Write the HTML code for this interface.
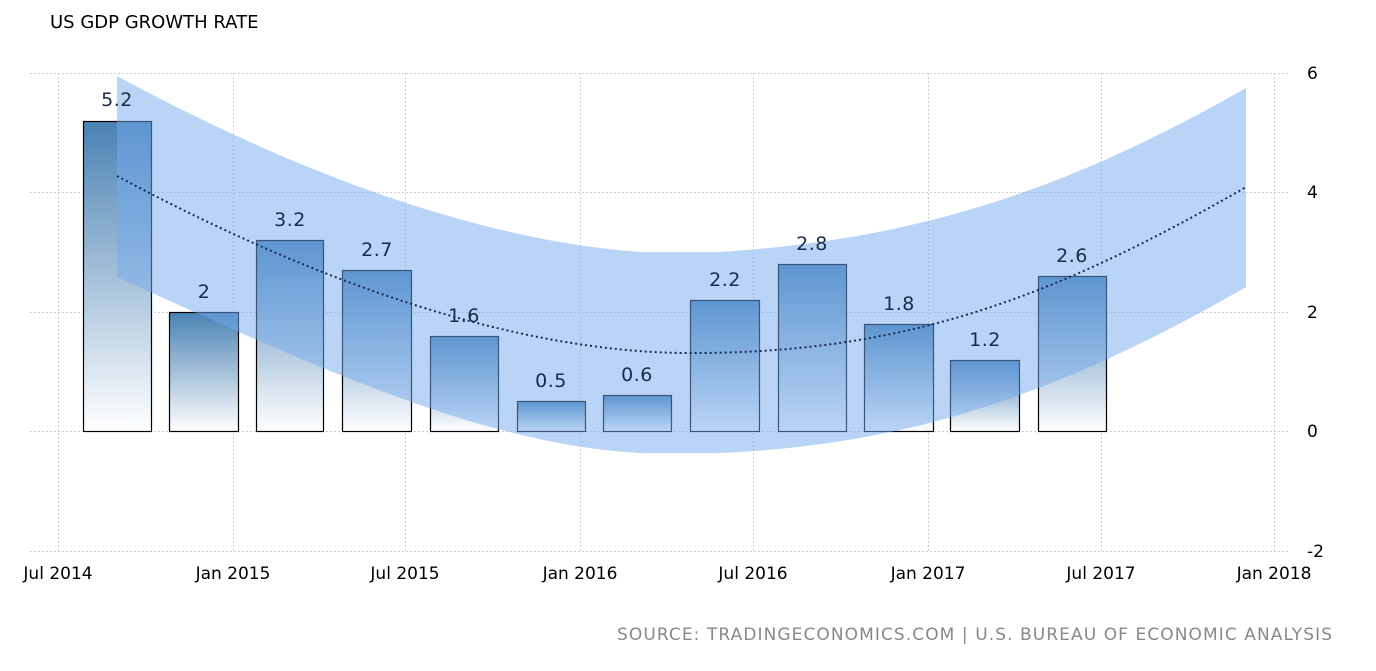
<!DOCTYPE html>
<html><head><meta charset="utf-8"><style>
body{margin:0;background:#fff;}
svg text{font-family:"DejaVu Sans","Liberation Sans",sans-serif;}
</style></head><body>
<svg width="1376" height="666" viewBox="0 0 1376 666" xmlns="http://www.w3.org/2000/svg">
<defs>
<linearGradient id="g" x1="0" y1="0" x2="0" y2="1">
<stop offset="0" stop-color="#4a82b4"/><stop offset="1" stop-color="#ffffff"/>
</linearGradient>
</defs>
<text x="50" y="28" font-size="18" fill="#000">US GDP GROWTH RATE</text>
<g stroke="#d0d0d0" stroke-width="1" stroke-dasharray="2,2" fill="none">
<line x1="30" y1="73.5" x2="1290" y2="73.5"/>
<line x1="30" y1="192.5" x2="1290" y2="192.5"/>
<line x1="30" y1="312.5" x2="1290" y2="312.5"/>
<line x1="30" y1="431.5" x2="1290" y2="431.5"/>
<line x1="30" y1="551.5" x2="1290" y2="551.5"/>
<line x1="58.5" y1="73" x2="58.5" y2="551"/>
<line x1="233.5" y1="73" x2="233.5" y2="551"/>
<line x1="405.5" y1="73" x2="405.5" y2="551"/>
<line x1="580.5" y1="73" x2="580.5" y2="551"/>
<line x1="753.5" y1="73" x2="753.5" y2="551"/>
<line x1="928.5" y1="73" x2="928.5" y2="551"/>
<line x1="1101.5" y1="73" x2="1101.5" y2="551"/>
<line x1="1274.5" y1="73" x2="1274.5" y2="551"/>
</g>
<g stroke="#000" stroke-width="1.2" fill="url(#g)">
<rect x="83.5" y="121.5" width="68" height="310"/>
<rect x="169.5" y="312.5" width="69" height="119"/>
<rect x="256.5" y="240.5" width="67" height="191"/>
<rect x="342.5" y="270.5" width="69" height="161"/>
<rect x="430.5" y="336.5" width="68" height="95"/>
<rect x="517.5" y="401.5" width="68" height="30"/>
<rect x="603.5" y="395.5" width="68" height="36"/>
<rect x="690.5" y="300.5" width="69" height="131"/>
<rect x="778.5" y="264.5" width="68" height="167"/>
<rect x="864.5" y="324.5" width="69" height="107"/>
<rect x="950.5" y="360.5" width="69" height="71"/>
<rect x="1038.5" y="276.5" width="68" height="155"/>
</g>
<path d="M117,76 C300,175 480,240 640,252 L720,252 C900,240 1050,200 1246,88 L1246,287 C1050,400 900,445 720,453 L640,453 C480,445 300,360 117,277 Z" fill="rgb(115,169,237)" fill-opacity="0.5"/>
<path d="M117,176 C330,290 520,350 680,353 C900,355 1050,300 1246,187" fill="none" stroke="#1a2a50" stroke-width="2" stroke-dasharray="2,3"/>
<g font-size="19" fill="#1a2a4a" text-anchor="middle" letter-spacing="0.5">
<text x="117" y="106">5.2</text>
<text x="204" y="298">2</text>
<text x="290" y="226">3.2</text>
<text x="377" y="256">2.7</text>
<text x="464" y="322">1.6</text>
<text x="551" y="387">0.5</text>
<text x="637" y="381">0.6</text>
<text x="725" y="286">2.2</text>
<text x="812" y="250">2.8</text>
<text x="899" y="310">1.8</text>
<text x="985" y="346">1.2</text>
<text x="1072" y="262">2.6</text>
</g>
<g font-size="17" fill="#000" text-anchor="start">
<text x="1307" y="79">6</text>
<text x="1307" y="198">4</text>
<text x="1307" y="318">2</text>
<text x="1307" y="437">0</text>
<text x="1307" y="557">-2</text>
</g>
<g font-size="17" fill="#000" text-anchor="middle">
<text x="58" y="579">Jul 2014</text>
<text x="233" y="579">Jan 2015</text>
<text x="405" y="579">Jul 2015</text>
<text x="580" y="579">Jan 2016</text>
<text x="753" y="579">Jul 2016</text>
<text x="928" y="579">Jan 2017</text>
<text x="1101" y="579">Jul 2017</text>
<text x="1274" y="579">Jan 2018</text>
</g>
<text x="617" y="640" font-size="17" fill="#888" textLength="715" lengthAdjust="spacing">SOURCE: TRADINGECONOMICS.COM | U.S. BUREAU OF ECONOMIC ANALYSIS</text>
</svg>
</body></html>
